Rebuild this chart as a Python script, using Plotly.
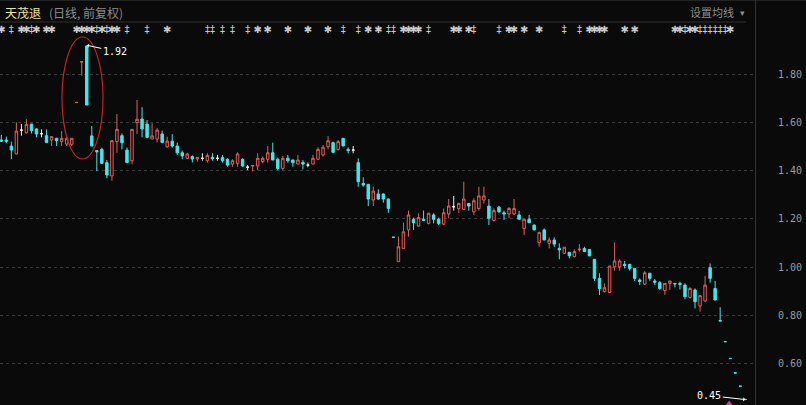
import plotly.graph_objects as go

# ---------------- data ----------------
opens = [1.527, 1.527, 1.502, 1.469, 1.568, 1.557, 1.593, 1.573, 1.553, 1.545,
         1.527, 1.534, 1.520, 1.510, 1.509, 1.682, 1.850, 1.917, 1.544, 1.483,
         1.488, 1.433, 1.378, 1.520, 1.545, 1.485, 1.441, 1.599, 1.614, 1.593,
         1.531, 1.531, 1.552, 1.499, 1.522, 1.502, 1.474, 1.451, 1.458, 1.448,
         1.451, 1.441, 1.455, 1.451, 1.454, 1.447, 1.427, 1.430, 1.447, 1.414,
         1.419, 1.419, 1.437, 1.447, 1.474, 1.447, 1.409, 1.451, 1.444, 1.427,
         1.434, 1.423, 1.427, 1.447, 1.465, 1.499, 1.516, 1.488, 1.534, 1.488,
         1.485, 1.433, 1.347, 1.343, 1.278, 1.303, 1.303, 1.282, 1.124, 1.022,
         1.077, 1.154, 1.198, 1.170, 1.198, 1.181, 1.216, 1.198, 1.178, 1.220,
         1.250, 1.243, 1.239, 1.264, 1.229, 1.243, 1.278, 1.253, 1.193, 1.248,
         1.225, 1.220, 1.220, 1.216, 1.160, 1.198, 1.174, 1.101, 1.154, 1.098,
         1.112, 1.077, 1.057, 1.061, 1.043, 1.071, 1.077, 1.073, 1.032, 0.953,
         0.898, 0.894, 1.001, 1.001, 1.011, 1.011, 0.994, 0.946, 0.929, 0.974,
         0.942, 0.935, 0.902, 0.932, 0.932, 0.932, 0.925, 0.874, 0.905, 0.838,
         0.859, 0.997, 0.911, 0.778, 0.691, 0.621, 0.561, 0.506, 0.451]
highs = [1.548, 1.541, 1.520, 1.600, 1.593, 1.613, 1.593, 1.575, 1.571, 1.571,
         1.541, 1.536, 1.564, 1.541, 1.534, 1.683, 1.852, 1.920, 1.585, 1.485,
         1.495, 1.444, 1.527, 1.635, 1.554, 1.496, 1.571, 1.693, 1.663, 1.610,
         1.596, 1.576, 1.566, 1.541, 1.551, 1.516, 1.483, 1.474, 1.463, 1.456,
         1.472, 1.472, 1.472, 1.465, 1.465, 1.451, 1.447, 1.476, 1.451, 1.423,
         1.423, 1.472, 1.458, 1.502, 1.516, 1.454, 1.461, 1.465, 1.446, 1.465,
         1.444, 1.433, 1.465, 1.497, 1.506, 1.544, 1.520, 1.527, 1.534, 1.497,
         1.502, 1.451, 1.372, 1.343, 1.333, 1.322, 1.305, 1.284, 1.124, 1.126,
         1.184, 1.234, 1.205, 1.223, 1.234, 1.225, 1.223, 1.205, 1.243, 1.282,
         1.295, 1.264, 1.354, 1.264, 1.285, 1.333, 1.333, 1.282, 1.243, 1.253,
         1.234, 1.248, 1.282, 1.233, 1.198, 1.216, 1.176, 1.146, 1.160, 1.123,
         1.123, 1.098, 1.082, 1.062, 1.073, 1.095, 1.084, 1.073, 1.032, 0.974,
         0.932, 1.004, 1.102, 1.032, 1.025, 1.013, 0.996, 0.953, 0.983, 0.976,
         0.950, 0.942, 0.932, 0.942, 0.932, 0.939, 0.932, 0.916, 0.911, 0.884,
         0.963, 1.015, 0.942, 0.833, 0.691, 0.621, 0.561, 0.506, 0.451]
lows = [1.520, 1.513, 1.447, 1.468, 1.545, 1.554, 1.554, 1.538, 1.538, 1.517,
        1.502, 1.502, 1.502, 1.502, 1.502, 1.682, 1.794, 1.672, 1.502, 1.398,
        1.427, 1.368, 1.358, 1.474, 1.488, 1.430, 1.426, 1.552, 1.538, 1.534,
        1.531, 1.517, 1.517, 1.495, 1.495, 1.465, 1.447, 1.447, 1.434, 1.437,
        1.441, 1.433, 1.441, 1.441, 1.433, 1.416, 1.416, 1.416, 1.416, 1.402,
        1.396, 1.402, 1.430, 1.433, 1.444, 1.402, 1.402, 1.433, 1.416, 1.427,
        1.405, 1.414, 1.427, 1.444, 1.458, 1.488, 1.472, 1.483, 1.499, 1.472,
        1.472, 1.333, 1.333, 1.253, 1.253, 1.278, 1.267, 1.225, 1.123, 1.022,
        1.077, 1.126, 1.154, 1.167, 1.193, 1.177, 1.181, 1.174, 1.174, 1.202,
        1.234, 1.225, 1.239, 1.234, 1.216, 1.234, 1.264, 1.174, 1.189, 1.225,
        1.195, 1.202, 1.216, 1.198, 1.133, 1.184, 1.152, 1.084, 1.112, 1.077,
        1.084, 1.032, 1.054, 1.036, 1.040, 1.064, 1.064, 1.046, 0.942, 0.884,
        0.894, 0.894, 0.985, 0.985, 0.994, 0.985, 0.942, 0.925, 0.925, 0.943,
        0.925, 0.905, 0.884, 0.905, 0.916, 0.907, 0.866, 0.870, 0.828, 0.815,
        0.856, 0.935, 0.863, 0.776, 0.690, 0.620, 0.560, 0.505, 0.450]
closes = [1.522, 1.522, 1.485, 1.564, 1.568, 1.592, 1.566, 1.552, 1.553, 1.517,
          1.541, 1.524, 1.534, 1.534, 1.534, 1.683, 1.852, 1.672, 1.502, 1.478,
          1.430, 1.382, 1.524, 1.571, 1.516, 1.434, 1.571, 1.613, 1.573, 1.538,
          1.544, 1.568, 1.517, 1.522, 1.502, 1.474, 1.461, 1.469, 1.448, 1.455,
          1.451, 1.463, 1.449, 1.451, 1.441, 1.423, 1.441, 1.469, 1.419, 1.414,
          1.421, 1.451, 1.451, 1.474, 1.444, 1.409, 1.451, 1.441, 1.433, 1.444,
          1.427, 1.423, 1.451, 1.488, 1.497, 1.524, 1.476, 1.520, 1.503, 1.483,
          1.485, 1.354, 1.340, 1.282, 1.315, 1.282, 1.282, 1.243, 1.123, 1.084,
          1.146, 1.216, 1.184, 1.205, 1.193, 1.223, 1.198, 1.181, 1.225, 1.253,
          1.250, 1.264, 1.282, 1.253, 1.275, 1.295, 1.295, 1.202, 1.234, 1.229,
          1.220, 1.243, 1.243, 1.198, 1.198, 1.184, 1.154, 1.144, 1.112, 1.112,
          1.095, 1.071, 1.082, 1.047, 1.064, 1.074, 1.064, 1.046, 0.953, 0.911,
          0.914, 1.004, 1.025, 1.025, 1.006, 0.994, 0.953, 0.940, 0.976, 0.953,
          0.937, 0.911, 0.932, 0.942, 0.930, 0.928, 0.877, 0.911, 0.856, 0.881,
          0.925, 0.953, 0.863, 0.776, 0.690, 0.620, 0.560, 0.505, 0.450]

# info markers shown in the strip above the candles (candle index, glyph)
mark_idx = [0, 2, 4, 5, 6, 7, 9, 10, 15, 16, 17, 18, 19, 20, 21, 22, 23, 25, 29, 33,
            41, 42, 44, 46, 49, 51, 53, 57, 61, 65, 68, 71, 73, 75, 77, 78, 80, 81, 82, 83,
            85, 90, 91, 93, 94, 99, 101, 102, 104, 107, 112, 115, 117, 118, 119, 120,
            124, 126, 134, 135, 136, 137, 138, 139, 140, 141, 142, 143, 144, 145]
mark_sym = ["✱", "‡", "✱", "✱", "‡", "✱", "✱", "✱", "✱", "✱", "✱", "✱", "‡", "✱", "‡", "✱", "✱", "‡", "‡", "✱",
            "‡", "‡", "‡", "‡", "‡", "✱", "✱", "✱", "✱", "✱", "‡", "‡", "✱", "✱", "‡", "‡", "✱", "✱", "✱", "✱",
            "‡", "✱", "✱", "✱", "‡", "‡", "✱", "✱", "✱", "✱", "‡", "‡", "✱", "✱", "✱", "✱",
            "✱", "✱", "✱", "✱", "‡", "✱", "✱", "‡", "‡", "‡", "‡", "‡", "‡", "✱"]

y_ticks = [0.6, 0.8, 1.0, 1.2, 1.4, 1.6, 1.8]
y_tick_text = [f"{v:.2f}" for v in y_ticks]

stock_name = "天茂退"
period_text = "(日线, 前复权)"
ma_text = "设置均线"

# ---------------- layout geometry ----------------
W, H = 806, 405
PL, PR, PT, PB = 0, 51, 22, 0
PW, PH = W - PL - PR, H - PT - PB
Y_MIN, Y_MAX = 0.4274, 2.0166
X_MIN, X_MAX = -0.26, 149.93

BG = "#0a0a0a"
RED = "#e0605e"
CYAN = "#45e5e8"
WHITE = "#f0f0f0"


def pxx(px):
    return (px - PL) / PW


def pxy(py):
    return (H - PB - py) / PH


def price_at(py):
    return Y_MIN + (Y_MAX - Y_MIN) * pxy(py)


idx = list(range(len(opens)))
up = [i for i in idx if closes[i] > opens[i]]
dn = [i for i in idx if closes[i] < opens[i]]
dj = [i for i in idx if closes[i] == opens[i]]


def candles(sel, inc_line, inc_fill, dec_line, dec_fill):
    return go.Candlestick(
        x=sel,
        open=[opens[i] for i in sel],
        high=[highs[i] for i in sel],
        low=[lows[i] for i in sel],
        close=[closes[i] for i in sel],
        increasing=dict(line=dict(color=inc_line, width=1), fillcolor=inc_fill),
        decreasing=dict(line=dict(color=dec_line, width=1), fillcolor=dec_fill),
        whiskerwidth=0,
        showlegend=False,
        hoverinfo="none",
    )


fig = go.Figure()
fig.add_trace(candles(up, RED, BG, RED, BG))
fig.add_trace(candles(dn, CYAN, CYAN, CYAN, CYAN))
fig.add_trace(candles(dj, WHITE, WHITE, WHITE, WHITE))

# info marker strip
fig.add_trace(go.Scatter(
    x=mark_idx, y=[price_at(30)] * len(mark_idx), mode="text", text=mark_sym,
    textfont=dict(color="#c8c8c8", size=10, family="DejaVu Sans"),
    showlegend=False, hoverinfo="none", cliponaxis=False,
))

# small magenta marker at the bottom edge
fig.add_trace(go.Scatter(
    x=[144.8], y=[price_at(404)], mode="markers",
    marker=dict(symbol="triangle-up", size=7, color="#e0309a"),
    showlegend=False, hoverinfo="none",
))

hi_i = max(idx, key=lambda i: highs[i])
lo_i = min(idx, key=lambda i: lows[i])

annotations = [
    dict(x=hi_i, y=highs[hi_i], xref="x", yref="y", text=f"{highs[hi_i]:.2f}",
         showarrow=True, ax=28, ay=6, arrowhead=1, arrowsize=0.7, arrowwidth=1,
         arrowcolor="#ffffff", font=dict(family="DejaVu Sans Mono", size=10, color="#ffffff")),
    dict(x=lo_i, y=lows[lo_i], xref="x", yref="y", text=f"{lows[lo_i]:.2f}",
         showarrow=True, ax=-36, ay=-4, arrowhead=1, arrowsize=0.7, arrowwidth=1,
         arrowcolor="#ffffff", font=dict(family="DejaVu Sans Mono", size=10, color="#ffffff")),
    dict(x=pxx(3), y=pxy(12), xref="paper", yref="paper", xanchor="left", yanchor="middle",
         text=stock_name, showarrow=False,
         font=dict(family="Noto Sans CJK SC", size=12, color="#ece4a2")),
    dict(x=pxx(47), y=pxy(12), xref="paper", yref="paper", xanchor="left", yanchor="middle",
         text=period_text, showarrow=False,
         font=dict(family="Noto Sans CJK SC", size=12, color="#8a8a8a")),
    dict(x=pxx(688), y=pxy(12), xref="paper", yref="paper", xanchor="left", yanchor="middle",
         text=ma_text, showarrow=False,
         font=dict(family="Noto Sans CJK SC", size=11, color="#8c8c8c")),
    dict(x=pxx(742), y=pxy(13), xref="paper", yref="paper", xanchor="center", yanchor="middle",
         text="▾", showarrow=False,
         font=dict(family="DejaVu Sans", size=9, color="#8c8c8c")),
]

shapes = [
    # header lines
    dict(type="line", xref="paper", yref="paper", x0=pxx(0), x1=pxx(806), y0=pxy(0.5), y1=pxy(0.5),
         line=dict(color="#222222", width=1)),
    dict(type="line", xref="paper", yref="paper", x0=pxx(0), x1=pxx(746), y0=pxy(22), y1=pxy(22),
         line=dict(color="#2e2e2e", width=1)),
    dict(type="line", xref="paper", yref="paper", x0=pxx(755.5), x1=pxx(755.5), y0=pxy(0), y1=pxy(405),
         line=dict(color="#333333", width=1)),
    # red highlight ellipse
    dict(type="circle", xref="paper", yref="paper", x0=pxx(62), x1=pxx(103), y0=pxy(37), y1=pxy(159),
         line=dict(color="#c0262a", width=1.2)),
]

fig.update_layout(
    width=W, height=H,
    margin=dict(l=PL, r=PR, t=PT, b=PB, pad=0),
    paper_bgcolor=BG, plot_bgcolor=BG,
    showlegend=False,
    hovermode=False,
    annotations=annotations,
    shapes=shapes,
    xaxis=dict(range=[X_MIN, X_MAX], showgrid=False, zeroline=False, showticklabels=False,
               showline=False, ticks="", rangeslider=dict(visible=False), fixedrange=True),
    yaxis=dict(range=[Y_MIN, Y_MAX], side="right", tickvals=y_ticks, ticktext=y_tick_text,
               showgrid=True, gridcolor="#3a3a3a", griddash="dot", gridwidth=1,
               zeroline=False, showline=False, ticks="", ticklabelstandoff=22,
               tickfont=dict(family="DejaVu Sans Mono", size=10, color="#9a9a9a"),
               fixedrange=True),
)

fig.write_html(
    "out.html",
    config={"displayModeBar": False, "staticPlot": True},
    post_script="document.body.style.margin='0px';document.body.style.background='#0a0a0a';",
)
